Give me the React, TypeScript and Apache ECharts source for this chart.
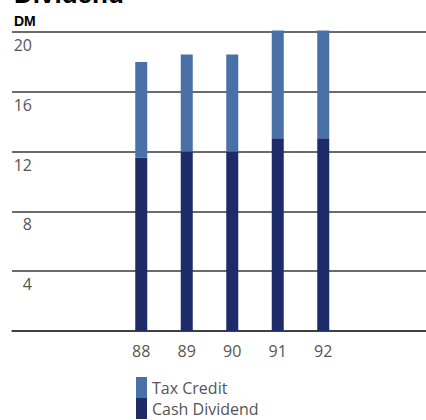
import React, { useEffect, useRef } from "react";
import * as echarts from "echarts";

const years = ["88", "89", "90", "91", "92"];
const cashDividend = [11.6, 12.0, 12.0, 12.9, 12.9];
const taxCredit = [6.4, 6.5, 6.5, 7.2, 7.2];
const yTicks = { min: 0, max: 20, interval: 4 };

const LIGHT = "#4a70a8";
const DARK = "#1d2b68";
const FONT = "'Open Sans', 'DejaVu Sans', sans-serif";

export default function App() {
  const ref = useRef<HTMLDivElement>(null);
  useEffect(() => {
    if (!ref.current) return;
    const chart = echarts.init(ref.current, undefined, { renderer: "svg" });
    chart.setOption({
      animation: false,
      backgroundColor: "#ffffff",
      grid: [
        { left: 12, right: 0, top: 32, height: 299 },
        { left: 118.5, width: 227.5, top: 32, height: 299 },
      ],
      xAxis: [
        {
          gridIndex: 0,
          type: "value",
          min: 0,
          max: 1,
          axisLabel: { show: false },
          axisTick: { show: false },
          splitLine: { show: false },
          axisLine: { show: true, lineStyle: { color: "#333", width: 1.5 } },
        },
        {
          gridIndex: 1,
          type: "category",
          data: years,
          axisLine: { show: false },
          axisTick: { show: false },
          axisLabel: { color: "#555", fontSize: 16, fontFamily: FONT, margin: 12 },
        },
      ],
      yAxis: [
        {
          gridIndex: 0,
          type: "value",
          min: yTicks.min,
          max: yTicks.max,
          interval: yTicks.interval,
          axisLine: { show: false },
          axisTick: { show: false },
          splitLine: { show: true, lineStyle: { color: "#3a3a3a", width: 1.5 } },
          axisLabel: {
            inside: true,
            align: "right",
            verticalAlign: "top",
            margin: 20,
            padding: [5, 0, 0, 0],
            color: "#555",
            fontSize: 16,
            fontFamily: FONT,
            formatter: (v: number) => (v === 0 ? "" : String(v)),
          },
        },
        {
          gridIndex: 1,
          type: "value",
          min: yTicks.min,
          max: yTicks.max,
          show: false,
          splitLine: { show: false },
        },
      ],
      legend: {
        orient: "vertical",
        left: 136,
        top: 377,
        itemWidth: 11,
        itemHeight: 21,
        itemGap: 0,
        padding: 0,
        icon: "rect",
        data: ["Tax Credit", "Cash Dividend"],
        textStyle: { color: "#555", fontSize: 16, fontFamily: FONT, padding: [12, 0, 0, 0] },
      },
      series: [
        {
          name: "Cash Dividend",
          type: "bar",
          xAxisIndex: 1,
          yAxisIndex: 1,
          stack: "d",
          barWidth: 12,
          clip: false,
          itemStyle: { color: DARK },
          data: cashDividend,
        },
        {
          name: "Tax Credit",
          type: "bar",
          xAxisIndex: 1,
          yAxisIndex: 1,
          stack: "d",
          barWidth: 12,
          clip: false,
          itemStyle: { color: LIGHT },
          data: taxCredit,
        },
      ],
      graphic: [
        {
          type: "text",
          left: 14,
          top: -19,
          style: {
            text: "Dividend",
            fontSize: 26,
            fontWeight: "bold",
            fontFamily: "'Liberation Sans', Arial, sans-serif",
            fill: "#000",
          },
        },
        {
          type: "text",
          left: 14,
          top: 14,
          style: {
            text: "DM",
            fontSize: 14,
            fontWeight: "bold",
            fontFamily: "'Liberation Sans', Arial, sans-serif",
            fill: "#000",
          },
        },
      ],
    });
    return () => chart.dispose();
  }, []);
  return (
    <div
      ref={ref}
      style={{ position: "fixed", left: 0, top: 0, width: 426, height: 420 }}
    />
  );
}
